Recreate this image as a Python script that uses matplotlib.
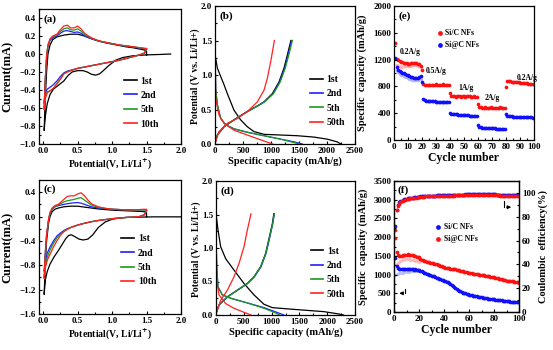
import matplotlib
matplotlib.use("Agg")
import matplotlib.pyplot as plt
from matplotlib.ticker import AutoMinorLocator, MultipleLocator
from matplotlib.lines import Line2D

plt.rcParams['font.family'] = ['Liberation Serif', 'DejaVu Serif']
plt.rcParams['font.weight'] = 'bold'
plt.rcParams['axes.labelweight'] = 'bold'
plt.rcParams['axes.linewidth'] = 0.9

W, H = 553, 350
CV_COLORS = ['black', '#1f1fff', '#1a9a1a', '#ff2020']
CV_LABELS = ['1st', '2nd', '5th', '10th']
GCD_LABELS = ['1st', '2nd', '5th', '50th']

# ---- (a) CV of Si/C NFs: cathodic scan then anodic scan ----
a_1st_x = [1.85, 1.7, 1.5, 1.3, 1.15, 1.05, 0.95, 0.88, 0.82, 0.76, 0.7, 0.64, 0.58, 0.5, 0.42, 0.36, 0.3, 0.25,
           0.2, 0.15, 0.1, 0.06, 0.03, 0.015,
           0.03, 0.05, 0.07, 0.1, 0.14, 0.2, 0.3, 0.4, 0.5, 0.6, 0.7, 0.8, 0.9, 1.0, 1.1, 1.2, 1.3, 1.4, 1.47,
           1.5, 1.5]
a_1st_y = [0.0, -0.005, -0.01, -0.02, -0.04, -0.07, -0.13, -0.18, -0.22, -0.235, -0.225, -0.2, -0.185, -0.185,
           -0.2, -0.24, -0.3, -0.33, -0.36, -0.39, -0.45, -0.55, -0.7, -0.85,
           -0.5, -0.2, 0.0, 0.1, 0.16, 0.19, 0.21, 0.22, 0.22, 0.2, 0.17, 0.145, 0.125, 0.11, 0.095, 0.08, 0.07,
           0.055, 0.045, 0.03, -0.01]
a_cv_x = [1.5, 1.47, 1.4, 1.3, 1.2, 1.1, 1.0, 0.9, 0.8, 0.7, 0.6, 0.5, 0.4, 0.35, 0.3, 0.25, 0.2, 0.15, 0.1,
          0.06, 0.03, 0.015,
          0.03, 0.05, 0.07, 0.1, 0.14, 0.2, 0.25, 0.3, 0.35, 0.4, 0.45, 0.5, 0.55, 0.6, 0.7, 0.8, 0.9, 1.0,
          1.1, 1.2, 1.3, 1.4, 1.47, 1.5]
a_2nd_y = [0.05, 0.01, -0.01, -0.03, -0.05, -0.07, -0.085, -0.1, -0.115, -0.13, -0.145, -0.16, -0.18, -0.19,
           -0.21, -0.25, -0.3, -0.34, -0.37, -0.39, -0.43, -0.55,
           -0.3, -0.05, 0.08, 0.15, 0.18, 0.2, 0.23, 0.255, 0.26, 0.25, 0.24, 0.245, 0.23, 0.2, 0.17, 0.145,
           0.13, 0.115, 0.1, 0.09, 0.08, 0.065, 0.055, 0.05]
a_5th_y = [0.055, 0.01, -0.01, -0.03, -0.05, -0.07, -0.085, -0.1, -0.115, -0.13, -0.145, -0.16, -0.185, -0.2,
           -0.22, -0.28, -0.33, -0.38, -0.41, -0.42, -0.48, -0.6,
           -0.3, -0.02, 0.1, 0.16, 0.19, 0.21, 0.25, 0.28, 0.29, 0.27, 0.265, 0.28, 0.255, 0.215, 0.175, 0.145,
           0.13, 0.115, 0.1, 0.09, 0.08, 0.07, 0.06, 0.055]
a_10th_y = [0.06, 0.01, -0.01, -0.03, -0.05, -0.07, -0.085, -0.1, -0.115, -0.13, -0.145, -0.16, -0.185, -0.2,
            -0.22, -0.28, -0.33, -0.38, -0.41, -0.43, -0.5, -0.62,
            -0.3, -0.02, 0.1, 0.17, 0.2, 0.22, 0.27, 0.31, 0.32, 0.29, 0.29, 0.31, 0.28, 0.23, 0.18, 0.15,
            0.13, 0.115, 0.1, 0.09, 0.08, 0.07, 0.065, 0.06]

# ---- (c) CV of Si@C NFs ----
c_1st_x = [2.0, 1.8, 1.6, 1.4, 1.2, 1.1, 1.0, 0.9, 0.8, 0.72, 0.65, 0.58, 0.52, 0.46, 0.41, 0.37, 0.33, 0.28,
           0.22, 0.16, 0.1, 0.06, 0.03, 0.015,
           0.03, 0.05, 0.08, 0.1, 0.13, 0.17, 0.22, 0.3, 0.4, 0.5, 0.6, 0.7, 0.8, 0.9, 1.0, 1.1, 1.2, 1.3, 1.4,
           1.47, 1.5, 1.5]
c_1st_y = [-0.005, -0.005, -0.005, -0.01, -0.015, -0.025, -0.045, -0.09, -0.18, -0.3, -0.37, -0.385, -0.37,
           -0.33, -0.3, -0.31, -0.36, -0.45, -0.56, -0.66, -0.78, -0.9, -1.05, -1.28,
           -0.8, -0.4, -0.1, 0.0, 0.08, 0.12, 0.14, 0.16, 0.17, 0.17, 0.155, 0.14, 0.125, 0.115, 0.105, 0.1,
           0.095, 0.09, 0.085, 0.08, 0.06, 0.0]
c_cv_x = [1.5, 1.47, 1.4, 1.3, 1.2, 1.1, 1.0, 0.9, 0.8, 0.7, 0.6, 0.5, 0.4, 0.35, 0.3, 0.25, 0.2, 0.15, 0.1,
          0.06, 0.03, 0.015,
          0.03, 0.05, 0.08, 0.1, 0.13, 0.17, 0.22, 0.3, 0.35, 0.4, 0.45, 0.5, 0.55, 0.6, 0.65, 0.7, 0.8, 0.9,
          1.0, 1.1, 1.2, 1.3, 1.4, 1.47, 1.5]
c_2nd_y = [0.1, 0.03, 0.0, -0.01, -0.015, -0.025, -0.035, -0.05, -0.065, -0.085, -0.11, -0.14, -0.18, -0.2,
           -0.23, -0.27, -0.32, -0.4, -0.5, -0.6, -0.75, -0.9,
           -0.6, -0.3, -0.05, 0.05, 0.12, 0.16, 0.18, 0.2, 0.21, 0.22, 0.225, 0.23, 0.22, 0.2, 0.18, 0.16,
           0.14, 0.13, 0.12, 0.115, 0.11, 0.11, 0.11, 0.11, 0.1]
c_5th_y = [0.1, 0.03, 0.0, -0.01, -0.015, -0.025, -0.035, -0.05, -0.065, -0.085, -0.11, -0.14, -0.18, -0.21,
           -0.24, -0.29, -0.35, -0.44, -0.55, -0.67, -0.82, -1.0,
           -0.65, -0.32, -0.05, 0.05, 0.12, 0.16, 0.19, 0.24, 0.26, 0.27, 0.28, 0.3, 0.31, 0.27, 0.23, 0.19,
           0.15, 0.135, 0.12, 0.115, 0.11, 0.11, 0.11, 0.11, 0.1]
c_10th_y = [0.12, 0.03, 0.0, -0.01, -0.015, -0.025, -0.035, -0.05, -0.065, -0.085, -0.11, -0.14, -0.18, -0.21,
            -0.25, -0.31, -0.4, -0.5, -0.62, -0.72, -0.85, -1.02,
            -0.65, -0.3, -0.03, 0.07, 0.14, 0.18, 0.2, 0.28, 0.33, 0.34, 0.34, 0.37, 0.39, 0.34, 0.27, 0.21,
            0.16, 0.135, 0.12, 0.115, 0.11, 0.11, 0.115, 0.12, 0.11]

# ---- (b) charge/discharge of Si/C NFs ----
b_dis_1st = ([0, 42, 101, 161, 220, 280, 339, 458, 577, 696, 875, 1173, 1470, 1768, 2006, 2185, 2250],
             [1.3, 1.1, 0.98, 0.86, 0.73, 0.61, 0.49, 0.35, 0.25, 0.18, 0.14, 0.13, 0.12, 0.1, 0.07, 0.03, 0.0])
b_dis_2nd = ([0, 12, 42, 101, 190, 339, 577, 875, 1173, 1420, 1560],
             [1.48, 0.8, 0.57, 0.37, 0.28, 0.22, 0.17, 0.12, 0.07, 0.03, 0.0])
b_dis_5th = ([0, 12, 42, 101, 190, 339, 577, 875, 1173, 1411, 1510],
             [1.48, 0.8, 0.57, 0.37, 0.28, 0.22, 0.17, 0.12, 0.07, 0.02, 0.0])
b_dis_50th = ([0, 12, 71, 161, 339, 577, 815, 1030],
              [1.48, 0.66, 0.42, 0.3, 0.2, 0.13, 0.06, 0.0])
b_chg_1st = ([0, 42, 161, 339, 577, 756, 875, 1024, 1143, 1232, 1292, 1355],
             [0.01, 0.13, 0.25, 0.35, 0.47, 0.55, 0.61, 0.73, 0.9, 1.1, 1.29, 1.5])
b_chg_2nd = ([0, 42, 161, 339, 577, 756, 880, 1035, 1155, 1245, 1305, 1368],
             [0.01, 0.13, 0.25, 0.35, 0.47, 0.55, 0.61, 0.73, 0.9, 1.1, 1.29, 1.5])
b_chg_5th = ([0, 42, 161, 339, 577, 756, 885, 1045, 1165, 1255, 1318, 1382],
             [0.01, 0.13, 0.25, 0.35, 0.47, 0.55, 0.61, 0.73, 0.9, 1.1, 1.29, 1.5])
b_chg_50th = ([0, 71, 220, 399, 577, 756, 875, 934, 994, 1060],
              [0.01, 0.18, 0.3, 0.37, 0.47, 0.61, 0.78, 0.95, 1.19, 1.5])

# ---- (d) charge/discharge of Si@C NFs ----
d_dis_1st = ([0, 36, 84, 174, 324, 504, 683, 863, 1013, 1463, 1942, 2212, 2290],
             [1.51, 1.27, 1.02, 0.84, 0.67, 0.47, 0.3, 0.16, 0.11, 0.08, 0.05, 0.015, 0.0])
d_dis_2nd = ([0, 12, 36, 114, 264, 564, 863, 1060, 1223],
             [1.27, 0.72, 0.42, 0.3, 0.25, 0.18, 0.11, 0.05, 0.0])
d_dis_5th = ([0, 12, 36, 114, 264, 564, 863, 1043, 1140],
             [1.27, 0.72, 0.42, 0.3, 0.25, 0.18, 0.1, 0.04, 0.0])
d_dis_50th = ([0, 12, 54, 174, 324, 504, 630],
              [1.44, 0.52, 0.3, 0.17, 0.1, 0.04, 0.0])
d_chg_1st = ([0, 54, 204, 384, 564, 683, 803, 893, 953, 1013, 1040],
             [0.02, 0.15, 0.27, 0.37, 0.47, 0.57, 0.72, 0.92, 1.14, 1.36, 1.51])
d_chg_2nd = ([0, 54, 204, 384, 564, 690, 810, 900, 962, 1020, 1048],
             [0.02, 0.15, 0.27, 0.37, 0.47, 0.57, 0.72, 0.92, 1.14, 1.36, 1.51])
d_chg_5th = ([0, 54, 204, 384, 564, 683, 803, 895, 958, 1018, 1050],
             [0.02, 0.15, 0.27, 0.37, 0.47, 0.57, 0.72, 0.92, 1.14, 1.36, 1.51])
d_chg_50th = ([0, 84, 204, 324, 414, 504, 564, 630],
              [0.02, 0.22, 0.37, 0.57, 0.77, 1.02, 1.27, 1.51])

# ---- (e) rate performance ----
cycles = list(range(1, 101))
e_sic = [1450,
         1205, 1190, 1180, 1170, 1160, 1155, 1150, 1145, 1140, 1140, 1145, 1150, 1150, 1155, 1150, 1140, 1130, 1110,
         1050,
         830, 825, 820, 820, 825, 820, 820, 825, 820, 830, 825, 820, 820, 825, 830, 825, 820, 815, 820,
         700,
         655, 650, 650, 648, 650, 652, 650, 648, 650, 650, 648, 650, 652, 650, 648, 645, 650, 648, 645,
         540,
         490, 488, 485, 485, 487, 485, 483, 485, 487, 485, 483, 485, 485, 483, 485, 487, 485, 483, 480,
         790,
         880, 878, 875, 872, 870, 868, 865, 862, 860, 858, 855, 852, 850, 848, 845, 843, 840, 838, 836, 835]
e_siatc = [1220,
           1090, 1050, 1030, 1015, 1005, 995, 985, 975, 965, 955, 945, 935, 925, 920, 925, 930, 940, 950,
           870,
           610, 590, 585, 580, 578, 575, 575, 578, 575, 572, 570, 570, 572, 570, 568, 565, 565, 562, 560,
           405,
           395, 390, 388, 385, 383, 380, 378, 378, 375, 372, 370, 368, 366, 365, 362, 360, 358, 355, 352,
           225,
           200, 190, 185, 180, 178, 176, 175, 175, 174, 173, 172, 172, 171, 170, 170, 170, 169, 168, 165,
           385,
           365, 360, 355, 352, 350, 350, 348, 348, 347, 346, 345, 345, 344, 343, 342, 340, 338, 336, 334, 332]
e_faint_cycles = list(range(2, 20))
e_sic_faint = [1120, 1110, 1100, 1095, 1095, 1100, 1100, 1100, 1105, 1105, 1110, 1115, 1120, 1120, 1115,
               1110, 1105, 1095]
e_siatc_faint = [1050, 1010, 990, 975, 965, 955, 945, 935, 925, 915, 905, 900, 895, 890, 895, 900, 905, 910]
rate_labels = ['0.2A/g', '0.5A/g', '1A/g', '2A/g', '0.2A/g']
rate_label_x = [4, 23, 46, 65, 88]
rate_label_y = [1290, 1000, 750, 600, 900]

# ---- (f) cycling at constant current ----
f_sic = [1430, 1230,
         1180, 1160, 1150, 1145, 1140, 1140, 1145, 1140, 1140, 1140, 1145, 1140, 1140, 1135, 1140, 1135, 1130, 1120,
         1100, 1085, 1070, 1055, 1040, 1025, 1010, 995, 985, 975,
         960, 950, 935, 920, 905, 890, 875, 865, 855, 840,
         825, 810, 795, 775, 750, 725, 700, 670, 645, 620,
         590, 570, 552, 535, 520, 505, 495, 485, 475, 465,
         455, 445, 437, 430, 422, 415, 408, 402, 396, 390,
         384, 378, 372, 366, 360, 355, 350, 345, 340, 335,
         330, 325, 320, 316, 312, 308, 304, 300, 296, 292,
         288, 284, 280, 276, 272, 268, 264, 260, 257, 254]
f_siatc = [2200, 1600,
           1520, 1500, 1490, 1500, 1510, 1520, 1530, 1530, 1540, 1530, 1520, 1520, 1510, 1500, 1490, 1480, 1470, 1460,
           1420, 1400, 1380, 1360, 1350, 1340, 1335, 1330, 1320, 1310,
           1300, 1290, 1280, 1270, 1260, 1250, 1240, 1220, 1205, 1195,
           1185, 1178, 1170, 1165, 1160, 1155, 1150, 1145, 1140, 1130,
           1120, 1110, 1100, 1095, 1090, 1080, 1070, 1060, 1050, 1040,
           1035, 1030, 1025, 1020, 1015, 1010, 1005, 1000, 995, 990,
           985, 980, 975, 970, 965, 955, 945, 940, 935, 930,
           920, 910, 900, 890, 880, 870, 860, 850, 845, 840,
           835, 830, 825, 820, 815, 810, 800, 795, 790, 780]
f_faint_cycles = list(range(1, 21))
f_sic_faint = [1000, 1010, 1020, 1030, 1040, 1050, 1055, 1060, 1065, 1070, 1075, 1080, 1085, 1085, 1090, 1090,
               1095, 1095, 1100, 1100]
f_siatc_faint = [1250, 1280, 1300, 1330, 1360, 1380, 1400, 1410, 1420, 1420, 1420, 1410, 1400, 1400, 1390, 1380,
                 1370, 1360, 1350, 1340]
f_ce_sic = [72, 86, 90, 92, 93, 93.5, 94, 94.5, 95, 95,
            95.5, 95.5, 96, 96, 96, 96.2, 96.5, 96.5, 96.7, 96.8,
            97, 97, 97, 97.1, 97.2, 97.3, 97.4, 97.5, 97.5, 97.6,
            97.7, 97.8, 97.8, 97.9, 98, 98, 98, 98.1, 98.1, 98.2,
            98.2, 98.3, 98.3, 98.3, 98.4, 98.4, 98.4, 98.5, 98.5, 98.5,
            98.5, 98.6, 98.6, 98.6, 98.6, 98.6, 98.7, 98.7, 98.7, 98.7,
            98.7, 98.7, 98.8, 98.8, 98.8, 98.8, 98.8, 98.8, 98.8, 98.8,
            98.8, 98.8, 98.8, 98.8, 98.8, 98.8, 98.8, 98.7, 98.7, 98.7,
            98.7, 98.6, 98.6, 98.6, 98.5, 98.5, 98.5, 98.5, 98.4, 98.4,
            98.4, 98.4, 98.3, 98.3, 98.3, 98.2, 98.2, 98.2, 98.1, 98.1]
f_ce_siatc = [62, 86, 89, 91, 92, 93, 93.5, 94, 94, 94.5,
              95, 95, 95.5, 95.5, 96, 96, 96, 96, 96.5, 96.5,
              96.5, 96.5, 96.8, 96.8, 97, 97, 97, 97, 97.2, 97.2,
              97.2, 97.3, 97.3, 97.4, 97.4, 97.5, 97.5, 97.5, 97.6, 97.6,
              97.6, 97.7, 97.7, 97.7, 97.8, 97.8, 97.8, 97.8, 97.9, 97.9,
              97.9, 98, 98, 98, 98, 98, 98.1, 98.1, 98.1, 98.1,
              98.1, 98.2, 98.2, 98.2, 98.2, 98.2, 98.2, 98.2, 98.2, 98.2,
              98.2, 98.2, 98.2, 98.2, 98.1, 98.1, 98.1, 98.1, 98, 98,
              98, 97.9, 97.9, 97.9, 97.8, 97.8, 97.8, 97.7, 97.7, 97.6,
              97.6, 97.5, 97.5, 97.5, 97.4, 97.4, 97.3, 97.3, 97.2, 97.2]

TICK = 6.5
LAB = 7.0


def px_axes(left, top, right, bottom):
    return fig.add_axes([left / W, 1 - bottom / H, (right - left) / W, (bottom - top) / H])


def style(ax):
    ax.tick_params(which='both', direction='in', labelsize=TICK, width=0.8, pad=2)
    ax.tick_params(which='major', length=2.5)
    ax.tick_params(which='minor', length=1.5)
    ax.xaxis.set_minor_locator(AutoMinorLocator(2))
    ax.yaxis.set_minor_locator(AutoMinorLocator(2))
    for lab in ax.get_xticklabels() + ax.get_yticklabels():
        lab.set_fontweight('bold')


def line_legend(ax, labels, x0, ytop):
    handles = [Line2D([], [], color=c, lw=1.2) for c in CV_COLORS]
    ax.legend(handles, labels, loc='upper left', bbox_to_anchor=(x0, ytop), frameon=False,
              prop={'size': 7, 'weight': 'bold'}, handlelength=1.3, handletextpad=0.4,
              labelspacing=0.55, borderpad=0, borderaxespad=0)


fig = plt.figure(figsize=(W / 100, H / 100), dpi=100)

# (a)
ax = px_axes(39, 9, 181, 144)
ax.plot(a_1st_x, a_1st_y, color=CV_COLORS[0], lw=0.9)
ax.plot(a_cv_x, a_2nd_y, color=CV_COLORS[1], lw=0.9)
ax.plot(a_cv_x, a_5th_y, color=CV_COLORS[2], lw=0.9)
ax.plot(a_cv_x, a_10th_y, color=CV_COLORS[3], lw=0.9)
ax.set_xlim(-0.06, 2.0)
ax.set_ylim(-1.0, 0.5)
ax.xaxis.set_major_locator(MultipleLocator(0.5))
ax.set_yticks([-1.0, -0.8, -0.6, -0.4, -0.2, 0.0, 0.2, 0.4])
style(ax)
ax.set_xlabel('Potential(V, Li/Li$^{\\mathbf{+}}$)', fontsize=LAB, labelpad=1)
ax.set_ylabel('Current(mA)', fontsize=9)
ax.yaxis.set_label_coords(-0.18, 0.5)
ax.text(0.03, 0.96, '(a)', transform=ax.transAxes, fontsize=8, va='top')
line_legend(ax, CV_LABELS, 0.6, 0.5)

# (c)
ax = px_axes(39, 180, 181, 314)
ax.plot(c_1st_x, c_1st_y, color=CV_COLORS[0], lw=0.9)
ax.plot(c_cv_x, c_2nd_y, color=CV_COLORS[1], lw=0.9)
ax.plot(c_cv_x, c_5th_y, color=CV_COLORS[2], lw=0.9)
ax.plot(c_cv_x, c_10th_y, color=CV_COLORS[3], lw=0.9)
ax.set_xlim(-0.06, 2.0)
ax.set_ylim(-1.6, 0.6)
ax.xaxis.set_major_locator(MultipleLocator(0.5))
ax.set_yticks([-1.6, -1.2, -0.8, -0.4, 0.0, 0.4])
style(ax)
ax.set_xlabel('Potential(V, Li/Li$^{\\mathbf{+}}$)', fontsize=LAB, labelpad=1)
ax.set_ylabel('Current(mA)', fontsize=9)
ax.yaxis.set_label_coords(-0.18, 0.5)
ax.text(0.03, 0.97, '(c)', transform=ax.transAxes, fontsize=8, va='top')
line_legend(ax, CV_LABELS, 0.58, 0.595)


def gcd_panel(box, curves, tag, leg_y):
    ax = px_axes(*box)
    for (dis, chg), c in zip(curves, CV_COLORS):
        ax.plot(dis[0], dis[1], color=c, lw=0.9)
        ax.plot(chg[0], chg[1], color=c, lw=0.9)
    ax.set_xlim(0, 2500)
    ax.set_ylim(0, 2.0)
    ax.xaxis.set_major_locator(MultipleLocator(500))
    ax.yaxis.set_major_locator(MultipleLocator(0.5))
    style(ax)
    ax.set_xlabel('Specific capacity (mAh/g)', fontsize=7.5, labelpad=1)
    ax.set_ylabel('Potential (V vs. Li/Li+)', fontsize=LAB)
    ax.yaxis.set_label_coords(-0.11, 0.49)
    ax.text(0.03, 0.96, tag, transform=ax.transAxes, fontsize=8, va='top')
    line_legend(ax, GCD_LABELS, 0.68, leg_y)
    return ax


gcd_panel((215, 6, 355, 144),
          [(b_dis_1st, b_chg_1st), (b_dis_2nd, b_chg_2nd), (b_dis_5th, b_chg_5th), (b_dis_50th, b_chg_50th)],
          '(b)', 0.5)
gcd_panel((216, 181, 355, 315),
          [(d_dis_1st, d_chg_1st), (d_dis_2nd, d_chg_2nd), (d_dis_5th, d_chg_5th), (d_dis_50th, d_chg_50th)],
          '(d)', 0.51)

# (e)
ax = px_axes(394, 6, 534, 140)
ax.scatter(e_faint_cycles, e_sic_faint, s=6, color='#ffb0b0', lw=0)
ax.scatter(e_faint_cycles, e_siatc_faint, s=6, color='#b0b8ff', lw=0)
ax.scatter(cycles, e_sic, s=7, color='#ff1010', lw=0, label='Si/C NFs')
ax.scatter(cycles, e_siatc, s=7, color='#1010ff', lw=0, label='Si@C NFs')
for t, x, y in zip(rate_labels, rate_label_x, rate_label_y):
    ax.text(x, y, t, fontsize=5.5)
ax.set_xlim(0, 100)
ax.set_ylim(0, 2000)
ax.xaxis.set_major_locator(MultipleLocator(10))
ax.yaxis.set_major_locator(MultipleLocator(400))
style(ax)
ax.set_xlabel('Cycle number', fontsize=8.5, labelpad=1)
ax.set_ylabel('Specific  capacity (mAh/g)', fontsize=7.5)
ax.yaxis.set_label_coords(-0.19, 0.5)
ax.text(0.03, 0.96, '(e)', transform=ax.transAxes, fontsize=8, va='top')
ax.legend(loc='upper left', bbox_to_anchor=(0.28, 0.86), frameon=False, prop={'size': 5.5, 'weight': 'bold'},
          handlelength=0.8, handletextpad=0.3, labelspacing=0.6, borderpad=0, scatterpoints=1, markerscale=1.3)

# (f)
ax = px_axes(394, 181, 519, 312)
ax.scatter(f_faint_cycles, f_sic_faint, s=5, color='#b8c0ff', lw=0)
ax.scatter(f_faint_cycles, f_siatc_faint, s=5, color='#ffb8b8', lw=0)
ax.scatter(cycles, f_sic, s=7, color='#1010ff', lw=0, label='Si/C NFs')
ax.scatter(cycles, f_siatc, s=7, color='#ff1010', lw=0, label='Si@C NFs')
ax.set_xlim(0, 100)
ax.set_ylim(0, 3500)
ax.xaxis.set_major_locator(MultipleLocator(20))
ax.yaxis.set_major_locator(MultipleLocator(500))
style(ax)
ax.set_xlabel('Cycle number', fontsize=8.5, labelpad=1)
ax.set_ylabel('Specific  capacity (mAh/g)', fontsize=7.5)
ax.yaxis.set_label_coords(-0.21, 0.5)
ax.text(0.03, 0.97, '(f)', transform=ax.transAxes, fontsize=8, va='top')
ax.legend(loc='upper left', bbox_to_anchor=(0.3, 0.71), frameon=False, prop={'size': 5.5, 'weight': 'bold'},
          handlelength=0.8, handletextpad=0.3, labelspacing=0.6, borderpad=0, scatterpoints=1, markerscale=1.3)
ax.plot([8.5, 8.5], [620, 500], color='black', lw=0.8)
ax.annotate('', xy=(2, 500), xytext=(8.6, 500),
            arrowprops=dict(arrowstyle='-|>', color='black', lw=0.8, mutation_scale=5))
ax2 = ax.twinx()
ax2.scatter(cycles, f_ce_sic, s=7, color='#1010ff', lw=0)
ax2.scatter(cycles, f_ce_siatc, s=7, color='#ff1010', lw=0)
ax2.set_ylim(0, 110)
ax2.yaxis.set_major_locator(MultipleLocator(20))
ax2.yaxis.set_minor_locator(AutoMinorLocator(2))
ax2.tick_params(which='both', direction='in', labelsize=TICK, width=0.8, pad=2)
ax2.tick_params(which='major', length=2.5)
ax2.tick_params(which='minor', length=1.5)
for lab in ax2.get_yticklabels():
    lab.set_fontweight('bold')
ax2.set_ylabel('Coulombic  efficiency(%)', fontsize=7.5, labelpad=2)
ax2.plot([88, 88], [93, 88], color='black', lw=0.8)
ax2.annotate('', xy=(96, 88), xytext=(87.9, 88),
             arrowprops=dict(arrowstyle='-|>', color='black', lw=0.8, mutation_scale=5))

fig.savefig('out.png', dpi=100)
